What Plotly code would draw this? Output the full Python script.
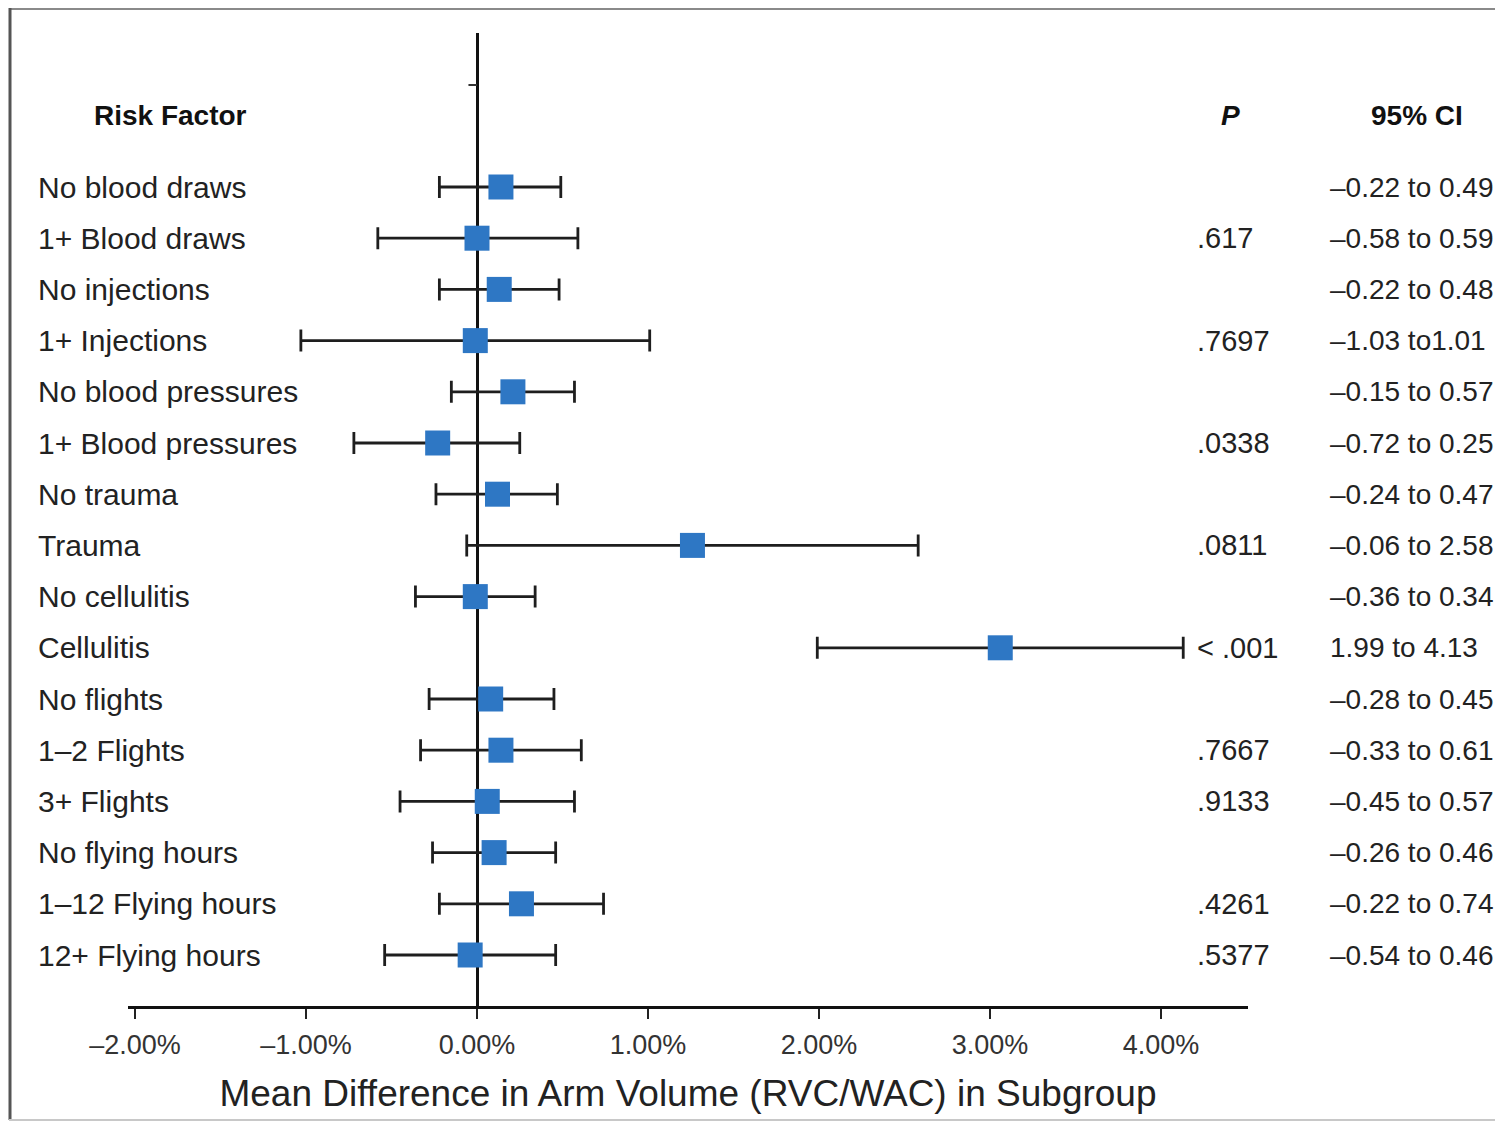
import plotly.graph_objects as go

risk_factors = ["No blood draws", "1+ Blood draws", "No injections", "1+ Injections",
                "No blood pressures", "1+ Blood pressures", "No trauma", "Trauma",
                "No cellulitis", "Cellulitis", "No flights", "1\u20132 Flights", "3+ Flights",
                "No flying hours", "1\u201312 Flying hours", "12+ Flying hours"]
mean_diff = [0.14, 0.00, 0.13, -0.01, 0.21, -0.23, 0.12, 1.26,
             -0.01, 3.06, 0.08, 0.14, 0.06, 0.10, 0.26, -0.04]
ci_low = [-0.22, -0.58, -0.22, -1.03, -0.15, -0.72, -0.24, -0.06,
          -0.36, 1.99, -0.28, -0.33, -0.45, -0.26, -0.22, -0.54]
ci_high = [0.49, 0.59, 0.48, 1.01, 0.57, 0.25, 0.47, 2.58,
           0.34, 4.13, 0.45, 0.61, 0.57, 0.46, 0.74, 0.46]
p_values = ["", ".617", "", ".7697", "", ".0338", "", ".0811",
            "", "< .001", "", ".7667", ".9133", "", ".4261", ".5377"]
ci_text = ["\u20130.22 to 0.49", "\u20130.58 to 0.59", "\u20130.22 to 0.48", "\u20131.03 to1.01",
           "\u20130.15 to 0.57", "\u20130.72 to 0.25", "\u20130.24 to 0.47", "\u20130.06 to 2.58",
           "\u20130.36 to 0.34", "1.99 to 4.13", "\u20130.28 to 0.45", "\u20130.33 to 0.61",
           "\u20130.45 to 0.57", "\u20130.26 to 0.46", "\u20130.22 to 0.74", "\u20130.54 to 0.46"]
tick_vals = [-2, -1, 0, 1, 2, 3, 4]
tick_text = ["\u20132.00%", "\u20131.00%", "0.00%", "1.00%", "2.00%", "3.00%", "4.00%"]

# page offset (default body margin of the html page)
O = 8
W, H = 1503 - 2 * O, 1141 - 2 * O - 12
# plot area in page pixels
PL, PR, PT, PB = 128, 1248, 33, 1006
X0PX, PXPER = 477, 171.0
ROW0, ROWSTEP = 187, 51.2

rows = list(range(len(risk_factors)))

def px(xp):
    return (xp - PL) / (PR - PL)

def py(yp):
    return (PB - yp) / (PB - PT)

FONT = "Liberation Sans, Arial, sans-serif"

fig = go.Figure()
fig.add_trace(go.Scatter(
    x=mean_diff, y=rows, mode="markers",
    marker=dict(symbol="square", size=25, color="#2e77c4", line=dict(width=0)),
    error_x=dict(type="data", symmetric=False,
                 array=[h - m for h, m in zip(ci_high, mean_diff)],
                 arrayminus=[m - l for m, l in zip(mean_diff, ci_low)],
                 color="#1e1e1e", thickness=2.8, width=11),
    showlegend=False, hoverinfo="skip"))

annotations = []
for i, name in enumerate(risk_factors):
    annotations.append(dict(xref="paper", yref="y", x=px(36), y=i, text=name,
                            showarrow=False, xanchor="left", yanchor="middle",
                            font=dict(family=FONT, size=30, color="#222")))
    if p_values[i]:
        annotations.append(dict(xref="paper", yref="y", x=px(1195), y=i, text=p_values[i],
                                showarrow=False, xanchor="left", yanchor="middle",
                                font=dict(family=FONT, size=29, color="#222")))
    annotations.append(dict(xref="paper", yref="y", x=px(1328), y=i, text=ci_text[i],
                            showarrow=False, xanchor="left", yanchor="middle",
                            font=dict(family=FONT, size=28, color="#222")))

annotations += [
    dict(xref="paper", yref="paper", x=px(170), y=py(115), text="<b>Risk Factor</b>",
         showarrow=False, xanchor="center", yanchor="middle",
         font=dict(family=FONT, size=28, color="#111")),
    dict(xref="paper", yref="paper", x=px(1230), y=py(115), text="<b><i>P</i></b>",
         showarrow=False, xanchor="center", yanchor="middle",
         font=dict(family=FONT, size=28, color="#111")),
    dict(xref="paper", yref="paper", x=px(1417), y=py(115), text="<b>95% CI</b>",
         showarrow=False, xanchor="center", yanchor="middle",
         font=dict(family=FONT, size=28, color="#111")),
]

bottom_px = H + O - 1
right_px = W + O
shapes = [
    dict(type="line", xref="paper", yref="paper", x0=px(9), x1=px(right_px), y0=py(8), y1=py(8),
         line=dict(color="#8a8a8a", width=4)),
    dict(type="line", xref="paper", yref="paper", x0=px(10), x1=px(10), y0=py(7), y1=py(bottom_px),
         line=dict(color="#555555", width=3)),
    dict(type="line", xref="paper", yref="paper", x0=px(9), x1=px(right_px), y0=py(bottom_px), y1=py(bottom_px),
         line=dict(color="#c8c8c8", width=2)),
    dict(type="line", xref="x", yref="paper", x0=-0.05, x1=0, y0=py(85), y1=py(85),
         line=dict(color="#333", width=2)),
]

fig.update_layout(
    width=W, height=H,
    margin=dict(l=PL - O, r=(W + O) - PR, t=PT - O, b=(H + O) - PB),
    plot_bgcolor="white", paper_bgcolor="white",
    annotations=annotations, shapes=shapes,
    xaxis=dict(range=[(PL - X0PX) / PXPER, (PR - X0PX) / PXPER],
               tickvals=tick_vals, ticktext=tick_text,
               ticks="outside", ticklen=10, tickwidth=2, tickcolor="#222",
               ticklabelstandoff=3,
               showline=True, linecolor="#111", linewidth=3,
               showgrid=False, zeroline=True, zerolinecolor="#111", zerolinewidth=2.5,
               tickfont=dict(family=FONT, size=27, color="#333"),
               title=dict(text="Mean Difference in Arm Volume (RVC/WAC) in Subgroup",
                          font=dict(family=FONT, size=37, color="#222"), standoff=21)),
    yaxis=dict(range=[(PB - ROW0) / ROWSTEP, (PT - ROW0) / ROWSTEP], showgrid=False,
               zeroline=False, showticklabels=False, showline=False, ticks=""),
)

fig.write_html("out.html")
